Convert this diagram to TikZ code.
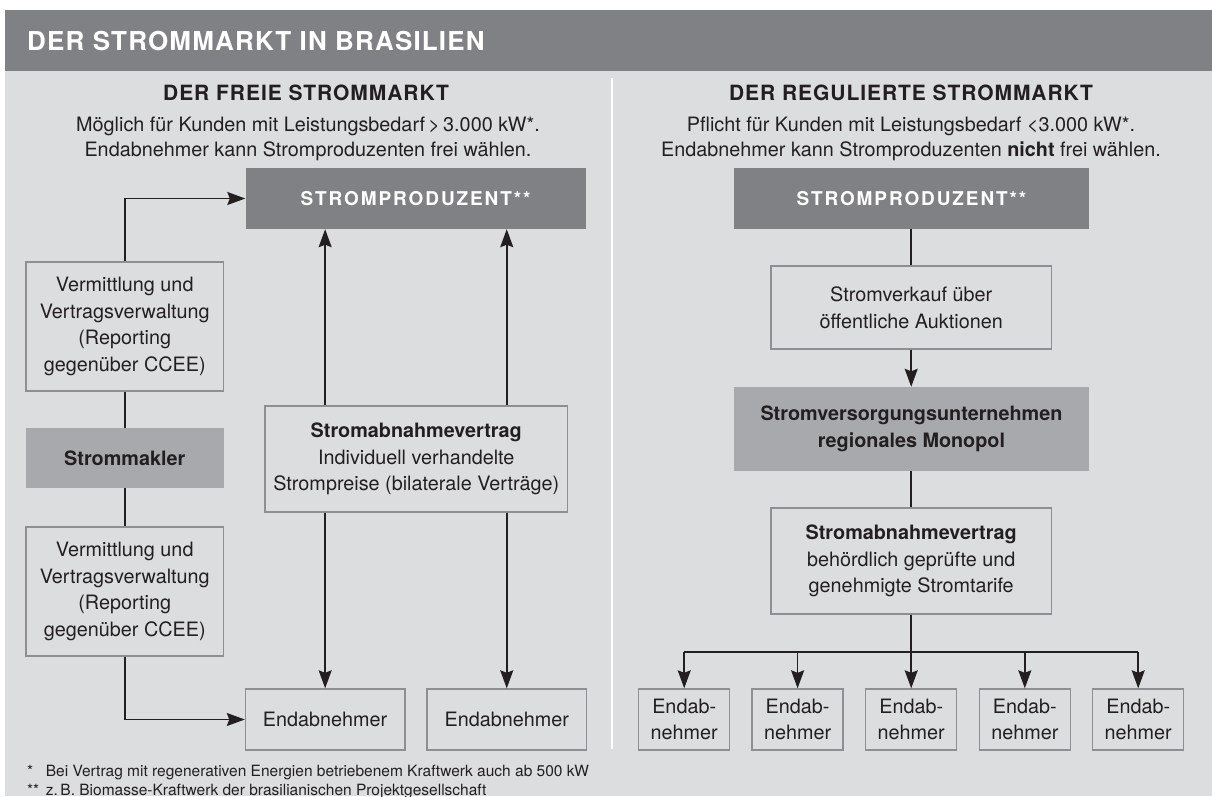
\documentclass[tikz,border=0pt]{standalone}
\usepackage{fontspec}
\setmainfont{TeX Gyre Heros}
\newfontfamily\capsfont[LetterSpace=4.5]{TeX Gyre Heros}
\newfontfamily\prodfont[LetterSpace=10]{TeX Gyre Heros}
\usetikzlibrary{arrows.meta}
\definecolor{hdr}{HTML}{808185}
\definecolor{bgc}{HTML}{DCDDDF}
\definecolor{midc}{HTML}{A8A9AC}
\definecolor{brd}{HTML}{8E8F92}
\definecolor{ink}{HTML}{231F20}
\tikzset{
  box/.style={draw=brd, line width=1.4pt, fill=bgc, inner sep=0pt, align=center, text=ink,
    font=\fontsize{19.8}{26.7}\selectfont},
  darkbox/.style={fill=hdr, draw=none, inner sep=0pt, align=center, text=white,
    font=\prodfont\bfseries\fontsize{19}{22}\selectfont},
  midbox/.style={fill=midc, draw=none, inner sep=0pt, align=center, text=ink,
    font=\bfseries\fontsize{19.8}{26.7}\selectfont},
  conn/.style={draw=ink, line width=1.5pt},
  arr/.style={conn, -{Stealth[length=18pt,width=13pt,inset=2.5pt]}},
  sectitle/.style={inner sep=0pt, anchor=base, text=ink, font=\capsfont\bfseries\fontsize{21}{24}\selectfont},
  subtxt/.style={inner sep=0pt, anchor=base, text=ink, font=\fontsize{19.8}{24}\selectfont},
  fn/.style={inner sep=0pt, anchor=base west, text=ink, font=\fontsize{15.5}{18}\selectfont}
}
\begin{document}
\begin{tikzpicture}[x=1pt,y=-1pt]
\useasboundingbox (0,0) rectangle (1212,796);
\fill[white] (0,0) rectangle (1212,796);
% backgrounds
\fill[bgc] (4.5,70) rectangle (1212,796);
\fill[hdr] (4.5,10) rectangle (1212,70.5);
\fill[white] (610.8,78) rectangle (613.3,749);
% header
\node[inner sep=0pt, anchor=base west, text=white, font=\capsfont\bfseries\fontsize{26}{30}\selectfont] (title) at (27,50) {DER STROMMARKT IN BRASILIEN};
% section titles
\node[sectitle] (tl) at (306,100) {DER FREIE STROMMARKT};
\node[subtxt] (sl1) at (308,131) {Möglich für Kunden mit Leistungsbedarf\,>\,3.000 kW*.};
\node[subtxt] (sl2) at (308,156) {Endabnehmer kann Stromproduzenten frei wählen.};
\node[sectitle] (tr) at (911,100) {DER REGULIERTE STROMMARKT};
\node[subtxt] (sr1) at (911,131) {Pflicht für Kunden mit Leistungsbedarf <3.000 kW*.};
\node[subtxt] (sr2) at (911,156) {Endabnehmer kann Stromproduzenten \textbf{nicht} frei wählen.};
% left side
\node[darkbox, minimum width=340.2pt, minimum height=61pt] (prodL) at (415.6,198.5) {STROMPRODUZENT**};
\node[box, minimum width=197.5pt, minimum height=129pt] (verm1) at (124.75,326.5) {Vermittlung und\\Vertragsverwaltung\\(Reporting\\gegenüber CCEE)};
\node[midbox, minimum width=197.5pt, minimum height=60pt] (makler) at (124.75,458) {Strommakler};
\node[box, minimum width=197.5pt, minimum height=129pt] (verm2) at (124.75,591.5) {Vermittlung und\\Vertragsverwaltung\\(Reporting\\gegenüber CCEE)};
\node[box, minimum width=302.5pt, minimum height=106pt] (abL) at (416.25,459) {\textbf{Stromabnahmevertrag}\\Individuell verhandelte\\Strompreise (bilaterale Verträge)};
\node[box, minimum width=159.3pt, minimum height=61pt] (endL1) at (325.15,719.5) {Endabnehmer};
\node[box, minimum width=159.5pt, minimum height=61pt] (endL2) at (506.75,719.5) {Endabnehmer};
\draw[arr] (verm1.north) |- (prodL.west);
\draw[conn] (verm1.south) -- (makler.north);
\draw[conn] (makler.south) -- (verm2.north);
\draw[arr] (verm2.south) |- (endL1.west);
\draw[arr] (abL.north -| endL1.north) -- (prodL.south -| endL1.north);
\draw[arr] (abL.north -| endL2.north) -- (prodL.south -| endL2.north);
\draw[arr] (abL.south -| endL1.north) -- (endL1.north);
\draw[arr] (abL.south -| endL2.north) -- (endL2.north);
% right side
\node[darkbox, minimum width=355.7pt, minimum height=61pt] (prodR) at (911.45,198.5) {STROMPRODUZENT**};
\node[box, minimum width=280.4pt, minimum height=83pt] (verk) at (911.2,307.5) {Stromverkauf über\\öffentliche Auktionen};
\node[midbox, minimum width=355.7pt, minimum height=84pt] (vers) at (911.45,429) {Stromversorgungsunternehmen\\regionales Monopol};
\node[box, minimum width=280.4pt, minimum height=106pt] (abR) at (911.2,561) {\textbf{Stromabnahmevertrag}\\behördlich geprüfte und\\genehmigte Stromtarife};
\node[box, minimum width=91pt, minimum height=61pt] (e1) at (684.2,719.5) {Endab-\\nehmer};
\node[box, minimum width=91pt, minimum height=61pt] (e2) at (797.6,719.5) {Endab-\\nehmer};
\node[box, minimum width=91pt, minimum height=61pt] (e3) at (911.2,719.5) {Endab-\\nehmer};
\node[box, minimum width=91pt, minimum height=61pt] (e4) at (1024.8,719.5) {Endab-\\nehmer};
\node[box, minimum width=91pt, minimum height=61pt] (e5) at (1138.2,719.5) {Endab-\\nehmer};
\coordinate (jc) at (911.2,652);
\draw[conn] (prodR.south -| verk.north) -- (verk.north);
\draw[arr] (verk.south) -- (verk.south |- vers.north);
\draw[conn] (vers.south -| abR.north) -- (abR.north);
\draw[conn] (abR.south) -- (jc);
\draw[conn] (e1.north |- jc) -- (e5.north |- jc);
\draw[arr] (e1.north |- jc) -- (e1.north);
\draw[arr] (e2.north |- jc) -- (e2.north);
\draw[arr] (jc) -- (e3.north);
\draw[arr] (e4.north |- jc) -- (e4.north);
\draw[arr] (e5.north |- jc) -- (e5.north);
% footnotes
\node[fn] (f1s) at (27,776.5) {*};
\node[fn] (f1) at (45.6,776.5) {Bei Vertrag mit regenerativen Energien betriebenem Kraftwerk auch ab 500 kW};
\node[fn] (f2s) at (27,795) {**};
\node[fn] (f2) at (45.6,795) {z.\,B. Biomasse-Kraftwerk der brasilianischen Projektgesellschaft};
\end{tikzpicture}
\end{document}
